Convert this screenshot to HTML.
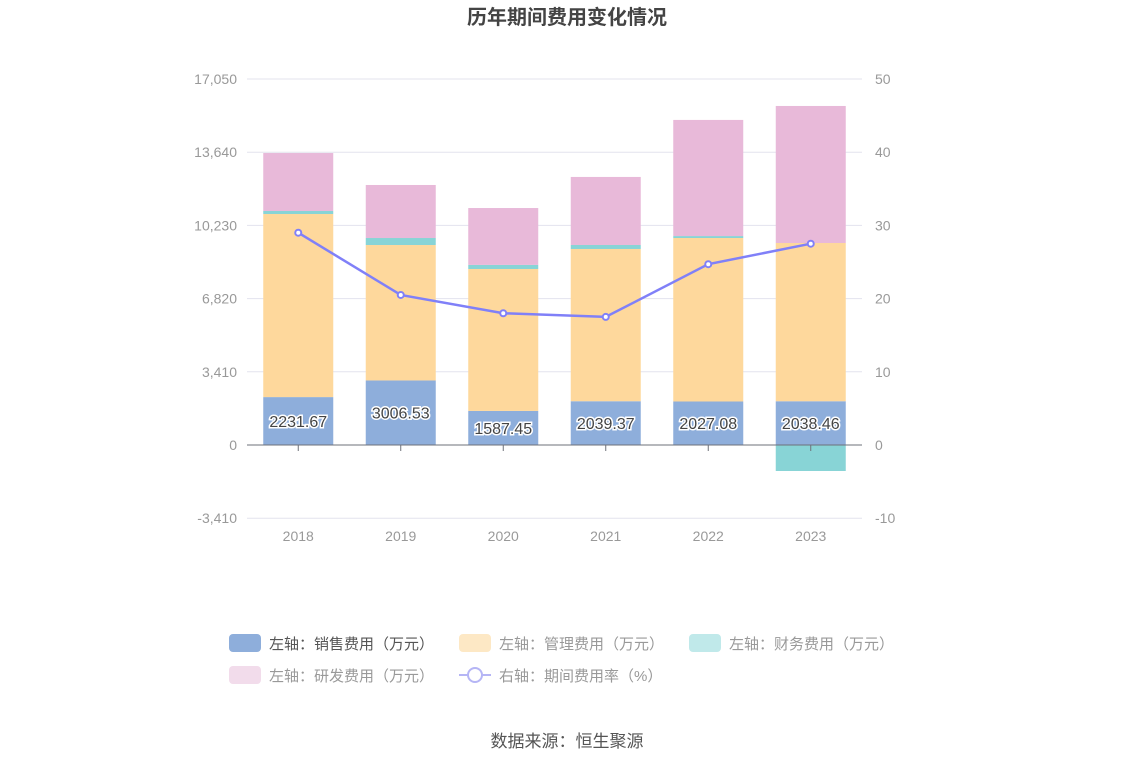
<!DOCTYPE html>
<html><head><meta charset="utf-8"><style>
body{margin:0;background:#fff;font-family:"Liberation Sans","Noto Sans CJK SC",sans-serif;}
svg text{font-family:"Liberation Sans","Noto Sans CJK SC",sans-serif;}
</style></head><body>
<svg id="c" width="1134" height="766" xmlns="http://www.w3.org/2000/svg">
<text x="567" y="24" text-anchor="middle" font-size="20" font-weight="bold" fill="#444">历年期间费用变化情况</text>
<g id="grid"></g><g id="bars"></g><g id="line"></g><g id="labels"></g>
<g>
<g><rect x="229" y="634" width="32" height="18" rx="4" fill="#8eaedb"/><text x="269" y="649" font-size="15" fill="#555">左轴：销售费用（万元）</text></g>
<g><rect x="459" y="634" width="32" height="18" rx="4" fill="#fde8c5"/><text x="499" y="649" font-size="15" fill="#999">左轴：管理费用（万元）</text></g>
<g><rect x="689" y="634" width="32" height="18" rx="4" fill="#c0e9ea"/><text x="729" y="649" font-size="15" fill="#999">左轴：财务费用（万元）</text></g>
<g><rect x="229" y="666" width="32" height="18" rx="4" fill="#f2dceb"/><text x="269" y="681" font-size="15" fill="#999">左轴：研发费用（万元）</text></g>
<g><line x1="459" y1="675" x2="491" y2="675" stroke="#b5b5f5" stroke-width="2"/><circle cx="475" cy="675" r="7" fill="#fff" stroke="#b5b5f5" stroke-width="2"/><text x="499" y="681" font-size="15" fill="#999">右轴：期间费用率（%）</text></g>
</g>
<text x="567" y="747" text-anchor="middle" font-size="17" fill="#555">数据来源：恒生聚源</text>
</svg>
<script>
const years=["2018","2019","2020","2021","2022","2023"];
const sales=[2231.67,3006.53,1587.45,2039.37,2027.08,2038.46];
const admin=[8530,6310,6612,7092,7616,7372];
const finance=[140,326,190,186,90,-1211];
const rd=[2700,2470,2650,3170,5410,6383];
const rate=[29.0,20.5,18.0,17.5,24.7,27.5];
const leftTicks=[-3410,0,3410,6820,10230,13640,17050];
const rightTicks=[-10,0,10,20,30,40,50];
const NS="http://www.w3.org/2000/svg";
const x0=247,x1=862,yTop=79,yBot=517;
const yL=v=>445-(v/3410)*73.2;
const yR=v=>445-(v/10)*73.2;
const band=(x1-x0)/years.length;
const xc=i=>x0+band*(i+0.5);
function mk(t,a,p){const e=document.createElementNS(NS,t);for(const k in a)e.setAttribute(k,a[k]);p.appendChild(e);return e;}
const g=document.getElementById('grid');
leftTicks.forEach((v,i)=>{
 const y=yL(v);
 if(v!==0){const l=mk('line',{x1:x0,x2:x1,y1:y,y2:y,stroke:'#e3e3ee'},g);}
 const t=mk('text',{x:237,y:y+5,'text-anchor':'end','font-size':14,fill:'#999'},g);t.textContent=v.toLocaleString('en-US');
 
 const r=mk('text',{x:875,y:yR(rightTicks[i])+5,'font-size':14,fill:'#999'},g);r.textContent=rightTicks[i];
 
});
const b=document.getElementById('bars');
const lab=document.getElementById('labels');
years.forEach((yr,i)=>{
 const cx=xc(i),w=70;
 let pos=0,neg=0;
 const segs=[[sales[i],'#8eaedb','bar-sales'],[admin[i],'#fed89c','bar-admin'],[finance[i],'#88d4d6','bar-finance'],[rd[i],'#e8b9d9','bar-rd']];
 segs.forEach(s=>{
  const v=s[0];let a,c;
  if(v>=0){a=pos;c=pos+v;pos=c;}else{a=neg;c=neg+v;neg=c;}
  const ya=yL(a),yc=yL(c);
  const r=mk('rect',{x:cx-w/2,y:Math.min(ya,yc),width:w,height:Math.abs(ya-yc),fill:s[1]},b);
  
 });
 const t=mk('text',{x:cx,y:yL(sales[i]/2)+6,'text-anchor':'middle','font-size':16,fill:'#444',stroke:'#fff','stroke-width':3,'paint-order':'stroke'},lab);
 t.textContent=sales[i].toFixed(2);
 
 const xt=mk('text',{x:cx,y:541,'text-anchor':'middle','font-size':14,fill:'#999'},lab);xt.textContent=yr;
 
 const tk=mk('line',{x1:cx,x2:cx,y1:445,y2:451,stroke:'#6e7079'},lab);
 
});
const ax=mk('line',{x1:x0,x2:x1,y1:445,y2:445,stroke:'#6e7079'},lab);

const L=document.getElementById('line');
const pl=mk('polyline',{points:rate.map((v,i)=>xc(i)+','+yR(v)).join(' '),fill:'none',stroke:'#8080f8','stroke-width':2.5},L);

rate.forEach((v,i)=>{const c=mk('circle',{cx:xc(i),cy:yR(v),r:3,fill:'#fff',stroke:'#8080f8','stroke-width':2},L);
 });
</script>
</body></html>
